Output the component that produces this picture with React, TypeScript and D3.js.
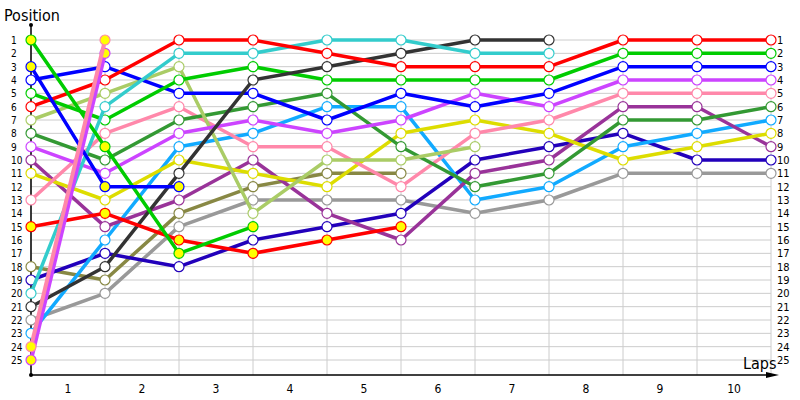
import React from "react";
import * as d3 from "d3";

const laps = [0, 1, 2, 3, 4, 5, 6, 7, 8, 9, 10];
const lapLabels = ["1", "2", "3", "4", "5", "6", "7", "8", "9", "10"];
const ranks = d3.range(1, 26);

const names = [
  "Gray", "Olive", "DarkBlue", "LightBlue", "Purple", "Yellow", "Pink", "DarkGreen",
  "LightGreen", "Violet", "BlueB", "GreenB", "Black", "Cyan", "RedA",
  "RedB", "GreenA", "BlueA", "VioletB", "PinkB",
];
const colors = [
  "#999999", "#888844", "#2200bb", "#11aaff", "#993399", "#dddd00", "#ff88aa", "#339933",
  "#aacc66", "#cc44ff", "#0000ff", "#00cc00", "#333333", "#33cccc", "#ff0000",
  "#ff0000", "#00cc00", "#0000ff", "#cc44ff", "#ff88aa",
];
const flagged = [
  false, false, false, false, false, false, false, false,
  false, false, false, false, false, false, false,
  true, true, true, true, true,
];
const positions: (number | null)[][] = [
  [22, 20, 15, 13, 13, 13, 14, 13, 11, 11, 11],
  [18, 19, 14, 12, 11, 11, null, null, null, null, null],
  [19, 17, 18, 16, 15, 14, 10, 9, 8, 10, 10],
  [23, 16, 9, 8, 6, 6, 13, 12, 9, 8, 7],
  [10, 15, 13, 10, 14, 16, 11, 10, 6, 6, 9],
  [11, 13, 10, 11, 12, 8, 7, 8, 10, 9, 8],
  [13, 8, 6, 9, 9, 12, 8, 7, 5, 5, 5],
  [8, 10, 7, 6, 5, 9, 12, 11, 7, 7, 6],
  [7, 5, 3, 14, 10, 10, 9, null, null, null, null],
  [9, 11, 8, 7, 8, 7, 5, 6, 4, 4, 4],
  [4, 3, 5, 5, 7, 5, 6, 5, 3, 3, 3],
  [5, 7, 4, 3, 4, 4, 4, 4, 2, 2, 2],
  [21, 18, 11, 4, 3, 2, 1, 1, null, null, null],
  [20, 6, 2, 2, 1, 1, 2, 2, null, null, null],
  [6, 4, 1, 1, 2, 3, 3, 3, 1, 1, 1],
  [15, 14, 16, 17, 16, 15, null, null, null, null, null],
  [1, 9, 17, 15, null, null, null, null, null, null, null],
  [3, 12, 12, null, null, null, null, null, null, null, null],
  [25, 2, null, null, null, null, null, null, null, null, null],
  [24, 1, null, null, null, null, null, null, null, null, null],
];

export default function App() {
  const W = 800;
  const H = 400;
  const x = d3.scaleLinear().domain([0, 10]).range([31, 771]);
  const y = d3.scaleLinear().domain([1, 25]).range([40, 360]);
  const axisY = 375;
  const font = "'DejaVu Sans Condensed', 'DejaVu Sans', sans-serif";

  const line = d3
    .line<[number, number | null]>()
    .defined((d) => d[1] !== null)
    .x((d) => x(d[0]))
    .y((d) => y(d[1] as number));

  return (
    <svg width={W} height={H} style={{ position: "absolute", left: 0, top: 0, background: "#fff" }}>
      <rect x={0} y={0} width={W} height={H} fill="#fff" />
      {ranks.map((r) => (
        <line key={"h" + r} x1={x(0)} x2={x(10)} y1={y(r)} y2={y(r)} stroke="#cccccc" strokeWidth={1} />
      ))}
      {laps.map((l) => (
        <line key={"v" + l} x1={x(l)} x2={x(l)} y1={y(1)} y2={axisY} stroke="#cccccc" strokeWidth={1} />
      ))}
      <line x1={x(0)} x2={x(0)} y1={25} y2={axisY} stroke="#000" strokeWidth={1.5} />
      <circle cx={x(0)} cy={25} r={2} fill="#000" />
      <circle cx={x(0)} cy={axisY} r={2} fill="#000" />
      <line x1={x(0)} x2={772} y1={axisY} y2={axisY} stroke="#000" strokeWidth={1.5} />
      <path d={`M766,${axisY - 3} L779,${axisY} L766,${axisY + 3} Z`} fill="#000" />
      <text x={4} y={21} fontFamily={font} fontSize={16} fill="#000">Position</text>
      <text x={743} y={369} fontFamily={font} fontSize={16} fill="#000">Laps</text>
      {ranks.map((r) => (
        <text key={"ll" + r} x={11} y={y(r) + 4} fontFamily={font} fontSize={10} fill="#000">{r}</text>
      ))}
      {ranks.map((r) => (
        <text key={"rl" + r} x={777} y={y(r) + 4} fontFamily={font} fontSize={11} fill="#000">{r}</text>
      ))}
      {lapLabels.map((t, i) => (
        <text key={"bl" + t} x={x(i + 0.5)} y={393} textAnchor="middle" fontFamily={font} fontSize={12} fill="#000">{t}</text>
      ))}
      {names.map((n, si) => {
        const pts = laps.map((l, i) => [l, positions[si][i]] as [number, number | null]);
        return (
          <g key={n}>
            <path d={line(pts) || ""} fill="none" stroke={colors[si]} strokeWidth={si >= 18 ? 4 : 3.5} strokeLinejoin="round" />
            {pts
              .filter((p) => p[1] !== null)
              .map((p) => (
                <circle
                  key={p[0]}
                  cx={x(p[0])}
                  cy={y(p[1] as number)}
                  r={5}
                  fill={flagged[si] ? "#ffff00" : "#ffffff"}
                  stroke={colors[si]}
                  strokeWidth={1.2}
                />
              ))}
          </g>
        );
      })}
    </svg>
  );
}
